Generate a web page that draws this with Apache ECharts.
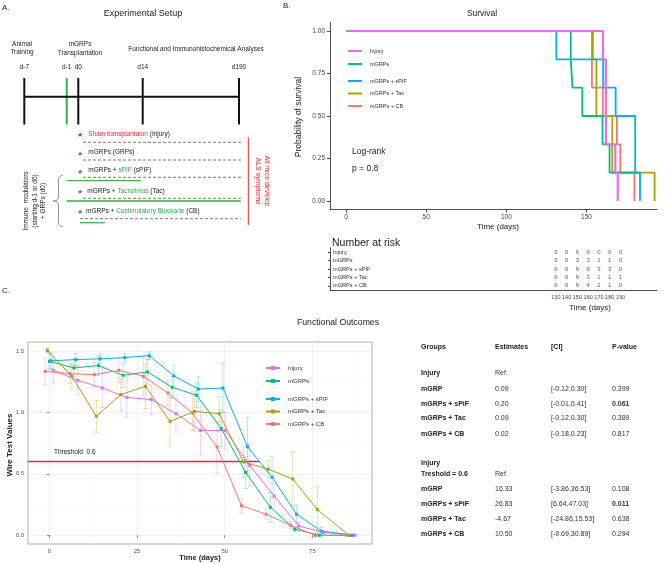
<!DOCTYPE html>
<html><head><meta charset="utf-8">
<script src="https://cdn.jsdelivr.net/npm/echarts@6/dist/echarts.min.js"></script>
<style>html,body{margin:0;padding:0;background:#fff}#c{width:669px;height:564px}</style>
</head><body><div id="c"></div><script>
const FONT = '"Liberation Sans", Arial, Helvetica, sans-serif';

// ---------------- DATA ----------------
const groups = ['Injury', 'mGRPs', 'mGRPs + sPIF', 'mGRPs + Tac', 'mGRPs + CB'];

// Panel B: Kaplan-Meier steps [time (days), survival probability]
const survInjury = [[0,1],[160.3,0.833],[162.1,0.333],[168,0.167],[169.5,0]];
const survGRPs   = [[0,1],[140.2,0.833],[141.3,0.667],[147.4,0.5],[160,0.333],[164.4,0.167],[183,0.167]];
const survSPIF   = [[0,1],[131.2,0.833],[160.4,0.667],[168.2,0.5],[180.4,0.167],[183.4,0]];
const survTac    = [[0,1],[154,0.833],[156.2,0.5],[166.1,0.167],[192.5,0]];
const survCB     = [[0,1],[153.4,0.667],[160.2,0.5],[169,0.333],[171.1,0.167],[179.9,0]];
const survTicksX = [0, 50, 100, 150];
const survTicksY = [0, 0.25, 0.5, 0.75, 1];

// Number at risk
const riskTimes  = [130, 140, 150, 160, 170, 180, 190];
const riskInjury = [6,6,6,6,0,0,0];
const riskGRPs   = [6,6,3,3,1,1,0];
const riskSPIF   = [6,6,6,6,3,3,0];
const riskTac    = [6,6,6,3,1,1,1];
const riskCB     = [6,6,6,4,2,1,0];

// Panel C: wire test values (mean) and error half-widths
const wireDays   = [0,7,14,21,28,35,42,49,56,63,70,77,86];
const wireInjury = [1.343,1.261,1.199,1.122,1.104,0.99,0.853,0.853,0.57,0.32,0.076,0.024,0];
const wireGRPs   = [1.416,1.362,1.381,1.302,1.33,1.204,1.14,0.87,0.511,0.228,0.049,0.0,0];
const wireSPIF   = [1.42,1.43,1.436,1.446,1.462,1.297,1.19,1.199,0.72,0.473,0.171,0.035,0];
const wireTac    = [1.505,1.294,0.968,1.145,1.212,0.927,1.008,0.99,0.596,0.538,0.458,0.209,0];
const wireCB     = [1.334,1.316,1.307,1.343,1.294,1.158,0.995,0.718,0.241,0.171,0.082,0.0,0];
const errInjury  = [0.11,0.12,0.16,0.16,0.12,0.15,0.2,0.15,0.17,0.1,0.03,0.01,0];
const errGRPs    = [0.06,0.07,0.08,0.1,0.1,0.09,0.1,0.15,0.13,0.12,0.02,0.01,0];
const errSPIF    = [0.07,0.05,0.04,0.03,0.03,0.09,0.1,0.2,0.24,0.17,0.07,0.03,0];
const errTac     = [0.02,0.1,0.13,0.13,0.18,0.2,0.16,0.14,0.13,0.07,0.22,0.19,0];
const errCB      = [0.11,0.08,0.1,0.1,0.15,0.1,0.14,0.21,0.06,0.04,0.03,0.01,0];
const wireTicksX = [0, 25, 50, 75];
const wireTicksY = [0, 0.5, 1, 1.5];
const thresholdValue = 0.6;
const thresholdEndDay = 60;

// Statistics table
const statHeader = ['Groups', 'Estimates', '[CI]', 'P-value'];
const statRows = [
  ['Injury', 'Ref.', '', ''],
  ['mGRP', '0.09', '[-0.12,0.30]', '0.399'],
  ['mGRPs + sPiF', '0.20', '[-0.01,0.41]', '0.061'],
  ['mGRPs + Tac', '0.09', '[-0.12,0.30]', '0.389'],
  ['mGRPs + CB', '0.02', '[-0.18,0.23]', '0.817'],
  ['Injury\nTreshold = 0.6', 'Ref.', '', ''],
  ['mGRP', '16.33', '[-3.86,36.53]', '0.108'],
  ['mGRPs + sPiF', '26.83', '[6.64,47.03]', '0.011'],
  ['mGRPs + Tac', '-4.67', '[-24.86,15.53]', '0.638'],
  ['mGRPs + CB', '10.50', '[-9.69,30.89]', '0.294']
];
const statBoldP = ['0.061', '0.011'];

// Panel A schematic text
const timelineLabels = ['d-7', 'd-1', 'd0', 'd14', 'd190'];
const protocolRows = [
  [['Sham transplantaion', 'r'], [' (Injury)', 'k']],
  [['mGRPs (GRPs)', 'k']],
  [['mGRPs + ', 'k'], ['sPIF', 'g'], [' (sPIF)', 'k']],
  [['mGRPs + ', 'k'], ['Tacrolimus', 'g'], [' (Tac)', 'k']],
  [['mGRPs + ', 'k'], ['Costimulatory Blockade', 'g'], [' (CB)', 'k']]
];

// ---------------- STYLE / LAYOUT ----------------
const colors = ['#E76BF3', '#00BF7D', '#00B0F6', '#A3A500', '#F8766D'];
const dodge = [1.1, 0, 0.5, -0.6, -1.2];
const survSets = [survInjury, survGRPs, survSPIF, survTac, survCB];
const riskSets = [riskInjury, riskGRPs, riskSPIF, riskTac, riskCB];
const wireSets = [wireInjury, wireGRPs, wireSPIF, wireTac, wireCB];
const errSets  = [errInjury, errGRPs, errSPIF, errTac, errCB];
const cMinX = -6.1, cMaxX = 92, cMinY = -0.071, cMaxY = 1.573;

function T(x, y, text, o) {
  o = o || {};
  const st = {
    text: text, fill: o.color || '#222', fontSize: o.size || 6.5, fontFamily: FONT,
    fontWeight: o.bold ? 'bold' : 'normal',
    align: o.align || 'left', textAlign: o.align || 'left',
    verticalAlign: o.valign || 'middle', textVerticalAlign: o.valign || 'middle'
  };
  if (o.rich) st.rich = o.rich;
  return { type: 'text', x: x, y: y, rotation: o.rot || 0, silent: true, z: 50, style: st };
}
function L(x1, y1, x2, y2, color, w, dash) {
  return { type: 'line', silent: true, z: 40, shape: { x1: x1, y1: y1, x2: x2, y2: y2 },
    style: { stroke: color, lineWidth: w, lineDash: dash || null } };
}
function Q(x1, y1, cx, cy, x2, y2, color, w) {
  return { type: 'bezierCurve', silent: true, z: 40,
    shape: { x1: x1, y1: y1, cpx1: cx, cpy1: cy, x2: x2, y2: y2 },
    style: { stroke: color, lineWidth: w, fill: null } };
}

const G = [];
// ---- Panel A ----
G.push(T(2, 8, 'A.', { size: 8 }));
G.push(T(143, 14, 'Experimental Setup', { size: 9, align: 'center' }));
G.push(T(22, 44, 'Animal', { align: 'center' }));
G.push(T(22, 52, 'Training', { align: 'center' }));
G.push(T(80, 44, 'mGRPs', { align: 'center' }));
G.push(T(80, 53, 'Transplantation', { align: 'center' }));
G.push(T(196, 49, 'Functional and Immunohistochemical Analyses', { align: 'center' }));
const tlX = [24.3, 66.7, 78.3, 142.7, 239];
timelineLabels.forEach((s, i) => {
  G.push(T(tlX[i], 67, s, { align: 'center' }));
  G.push(L(tlX[i], 78, tlX[i], 124.5, i === 1 ? '#2DB34A' : '#111', 2));
});
G.push(L(24.3, 96.8, 239, 96.8, '#111', 2));
const rowTextX = [88.3, 88.3, 88.3, 87.3, 86];
const rowTextY = [134.7, 152.7, 170.7, 191.3, 211];
const starY = [134.7, 154, 172.3, 192.3, 211.7];
const dashY = [142.3, 160, 177.3, 198.3, 218.7];
const richBase = {
  k: { fill: '#222', fontSize: 6.5, fontFamily: FONT },
  r: { fill: '#E8272B', fontSize: 6.5, fontFamily: FONT },
  g: { fill: '#2DAA4F', fontSize: 6.5, fontFamily: FONT }
};
protocolRows.forEach((parts, i) => {
  const txt = parts.map(p => '{' + p[1] + '|' + p[0] + '}').join('');
  G.push(T(rowTextX[i], rowTextY[i], txt, { rich: richBase }));
  G.push(T(79.5, starY[i], '\u2605', { size: 7, align: 'center', color: i === 0 ? '#A03A5A' : '#4F74A8' }));
  G.push(L(i === 4 ? 80 : 83, dashY[i], 241, dashY[i], '#555', 0.8, [3, 2]));
});
G.push(L(66.7, 180.7, 140.7, 180.7, '#3DB54A', 1.3));
G.push(L(66.7, 201, 240.7, 201, '#5CC46E', 2));
G.push(L(80, 222.7, 105, 222.7, '#3DB54A', 1.3));
// brace
G.push(Q(63, 175.5, 58.5, 175.5, 58.5, 180, '#777', 0.8));
G.push(L(58.5, 180, 58.5, 197, '#777', 0.8));
G.push(Q(58.5, 197, 58.5, 201, 53, 201, '#777', 0.8));
G.push(Q(53, 201, 58.5, 201, 58.5, 205, '#777', 0.8));
G.push(L(58.5, 205, 58.5, 222, '#777', 0.8));
G.push(Q(58.5, 222, 58.5, 226.5, 63, 226.5, '#777', 0.8));
G.push(T(26.7, 201, 'Immune  modulators', { rot: Math.PI / 2, align: 'center' }));
G.push(T(35, 201, '(starting d-1 or d0)', { rot: Math.PI / 2, align: 'center' }));
G.push(T(43.3, 201, '+ GRPs (d0)', { rot: Math.PI / 2, align: 'center' }));
G.push(L(248.3, 137.3, 248.3, 225, '#E8272B', 1));
G.push(T(266.7, 181, 'All mice develop', { rot: -Math.PI / 2, align: 'center', color: '#E8272B', size: 7 }));
G.push(T(258.3, 181, 'ALS symptoms', { rot: -Math.PI / 2, align: 'center', color: '#E8272B', size: 7 }));

// ---- Panel B texts ----
G.push(T(283, 6, 'B.', { size: 8 }));
G.push(T(482, 14, 'Survival', { size: 8.5, align: 'center' }));
G.push(T(299, 117, 'Probability of survival', { size: 8.5, align: 'center', rot: Math.PI / 2 }));
G.push(T(352, 152, 'Log-rank', { size: 8.5 }));
G.push(T(352, 169, 'p = 0.8', { size: 8.5 }));
G.push(T(498, 227, 'Time (days)', { size: 8, align: 'center' }));
G.push(T(332, 243, 'Number at risk', { size: 10.5 }));
G.push(T(590, 308, 'Time (days)', { size: 8, align: 'center' }));

// ---- Panel C texts ----
G.push(T(2, 291, 'C.', { size: 8 }));
G.push(T(338, 323, 'Functional Outcomes', { size: 8.7, align: 'center' }));
G.push(T(10, 445, 'Wire Test Values', { size: 8, bold: true, align: 'center', rot: Math.PI / 2 }));
G.push(T(200, 558, 'Time (days)', { size: 7.5, bold: true, align: 'center' }));
G.push(T(54, 452, 'Threshold  0.6', { size: 6.5 }));

// ---- Stats table ----
const colX = [421, 495, 551, 612];
const rowY = [373, 389, 404, 418, 434, 474, 489, 504, 519, 534];
statHeader.forEach((h, j) => G.push(T(colX[j], 347, h, { size: 7, bold: true })));
statRows.forEach((r, i) => {
  const nameLines = r[0].split('\n');
  nameLines.forEach((ln, k) => G.push(T(colX[0], rowY[i] - (nameLines.length - 1 - k) * 11, ln, { size: 7, bold: true })));
  for (let j = 1; j < 4; j++) {
    if (r[j]) G.push(T(colX[j], rowY[i], r[j], { size: 7, color: '#333', bold: statBoldP.indexOf(r[j]) >= 0 }));
  }
});

// ---------------- SERIES ----------------
const series = [];
[4, 3, 1, 2, 0].forEach((i, k) => {
  series.push({ type: 'line', name: groups[i], xAxisIndex: 0, yAxisIndex: 0, step: 'end',
    data: survSets[i], symbol: 'none', showSymbol: false, silent: true, z: 3 + k,
    lineStyle: { color: colors[i], width: i === 0 ? 2.2 : 1.8, opacity: 1 }, itemStyle: { color: colors[i] } });
});
const riskData = [];
groups.forEach((g, i) => riskTimes.forEach((t, j) => riskData.push([t, g, riskSets[i][j]])));
series.push({ type: 'scatter', xAxisIndex: 1, yAxisIndex: 1, data: riskData, symbolSize: 1, silent: true,
  itemStyle: { color: 'rgba(0,0,0,0)' },
  label: { show: true, position: 'inside', formatter: p => String(p.value[2]), fontSize: 6, color: '#333', fontFamily: FONT } });

groups.forEach((g, i) => {
  const col = colors[i];
  series.push({ type: 'custom', xAxisIndex: 2, yAxisIndex: 2, silent: true, z: 2,
    data: wireDays.map((d, j) => [d + dodge[i], wireSets[i][j] - errSets[i][j], wireSets[i][j] + errSets[i][j]]),
    encode: { x: 0, y: [1, 2] },
    renderItem: function (params, api) {
      const x = api.value(0), lo = api.value(1), hi = api.value(2);
      if (hi - lo <= 0.001) return { type: 'group', children: [] };
      const p1 = api.coord([x, lo]), p2 = api.coord([x, hi]);
      const w = 2.5;
      const st = { stroke: col, lineWidth: 0.8, opacity: 0.4 };
      return { type: 'group', children: [
        { type: 'line', shape: { x1: p1[0], y1: p1[1], x2: p2[0], y2: p2[1] }, style: st },
        { type: 'line', shape: { x1: p1[0] - w, y1: p1[1], x2: p1[0] + w, y2: p1[1] }, style: st },
        { type: 'line', shape: { x1: p2[0] - w, y1: p2[1], x2: p2[0] + w, y2: p2[1] }, style: st }
      ] };
    } });
});
series.push({ type: 'line', xAxisIndex: 2, yAxisIndex: 2, silent: true, z: 3, symbol: 'none',
  data: [[cMinX, thresholdValue], [thresholdEndDay, thresholdValue]],
  lineStyle: { color: '#FF2020', width: 1.5 } });
groups.forEach((g, i) => {
  series.push({ type: 'line', name: 'C|' + g, xAxisIndex: 2, yAxisIndex: 2, silent: true, z: 4,
    data: wireDays.map((d, j) => [d + dodge[i], wireSets[i][j]]),
    symbol: 'rect', symbolSize: 3, showSymbol: true,
    lineStyle: { color: colors[i], width: 1 }, itemStyle: { color: colors[i] } });
});

// ---------------- AXES ----------------
const axTxt = { fontSize: 6.5, color: '#444', fontFamily: FONT };
const blackLine = { color: '#222', width: 0.8 };
const xAxis = [
  { gridIndex: 0, type: 'value', min: -10, max: 194,
    axisLine: { show: true, onZero: false, lineStyle: blackLine },
    axisTick: { show: true, customValues: survTicksX, length: 3, lineStyle: blackLine },
    axisLabel: Object.assign({ customValues: survTicksX, margin: 4 }, axTxt),
    splitLine: { show: false } },
  { gridIndex: 1, type: 'value', min: -80, max: 224,
    axisLine: { show: true, onZero: false, lineStyle: blackLine },
    axisTick: { show: false, customValues: riskTimes },
    axisLabel: Object.assign({ customValues: riskTimes, margin: 4, hideOverlap: false }, axTxt, { fontSize: 5.5 }),
    splitLine: { show: false } },
  { gridIndex: 2, type: 'value', min: cMinX, max: cMaxX,
    axisLine: { show: false },
    axisTick: { show: true, customValues: wireTicksX, length: 2.5, lineStyle: { color: '#444', width: 0.6 } },
    axisLabel: Object.assign({ customValues: wireTicksX, margin: 4 }, axTxt, { fontSize: 6, color: '#555' }),
    splitLine: { show: true, lineStyle: { color: '#EBEBEB', width: 0.7 } } },
  { gridIndex: 2, type: 'value', min: cMinX, max: cMaxX, position: 'top',
    axisLine: { show: false }, axisLabel: { show: false },
    axisTick: { show: false, customValues: [12.5, 37.5, 62.5, 87.5] },
    splitLine: { show: true, lineStyle: { color: '#F4F4F4', width: 0.5 } } }
];
const yAxis = [
  { gridIndex: 0, type: 'value', min: -0.05, max: 1.05,
    axisLine: { show: true, onZero: false, lineStyle: blackLine },
    axisTick: { show: true, customValues: survTicksY, length: 3, lineStyle: blackLine },
    axisLabel: Object.assign({ customValues: survTicksY, margin: 5, formatter: v => Number(v).toFixed(2) }, axTxt),
    splitLine: { show: false } },
  { gridIndex: 1, type: 'category', data: groups, inverse: true,
    axisLine: { show: true, onZero: false, lineStyle: blackLine },
    axisTick: { show: true, length: 2, alignWithLabel: true, lineStyle: blackLine },
    axisLabel: { inside: true, margin: 3, fontSize: 5.6, color: '#333', fontFamily: FONT },
    splitLine: { show: false } },
  { gridIndex: 2, type: 'value', min: cMinY, max: cMaxY,
    axisLine: { show: false },
    axisTick: { show: true, customValues: wireTicksY, length: 2.5, lineStyle: { color: '#444', width: 0.6 } },
    axisLabel: Object.assign({ customValues: wireTicksY, margin: 4, formatter: v => Number(v).toFixed(1) }, axTxt, { fontSize: 6, color: '#555' }),
    splitLine: { show: true, lineStyle: { color: '#EBEBEB', width: 0.7 } } },
  { gridIndex: 2, type: 'value', min: cMinY, max: cMaxY, position: 'right',
    axisLine: { show: false }, axisLabel: { show: false },
    axisTick: { show: false, customValues: [0.25, 0.75, 1.25] },
    splitLine: { show: true, lineStyle: { color: '#F4F4F4', width: 0.5 } } }
];

function legendB(names, top, gap) {
  return { left: 348, top: top, orient: 'vertical', padding: 0, itemGap: gap, itemWidth: 14, itemHeight: 2,
    icon: 'rect', data: names, selectedMode: false,
    textStyle: { fontSize: 5.5, color: '#333', fontFamily: FONT, lineHeight: 8, padding: [0, 0, 0, 3] } };
}
function legendC(names, top, gap) {
  return { left: 265, top: top, orient: 'vertical', padding: 0, itemGap: gap, itemWidth: 14, itemHeight: 5,
    data: names.map(n => 'C|' + n), selectedMode: false, formatter: n => n.slice(2),
    textStyle: { fontSize: 6, color: '#333', fontFamily: FONT, lineHeight: 8, padding: [0, 0, 0, 3] } };
}

const option = {
  animation: false,
  backgroundColor: '#fff',
  textStyle: { fontFamily: FONT },
  grid: [
    { left: 330, top: 22.5, width: 327, height: 187, show: false, containLabel: false, outerBoundsMode: 'none' },
    { left: 330, top: 248, width: 327, height: 42, show: false, containLabel: false, outerBoundsMode: 'none' },
    { left: 28, top: 342, width: 344, height: 202, show: true, borderColor: '#999', borderWidth: 0.8,
      backgroundColor: '#fff', containLabel: false, outerBoundsMode: 'none' }
  ],
  legend: [
    legendB(['Injury', 'mGRPs'], 47, 5),
    legendB(['mGRPs + sPIF', 'mGRPs + Tac', 'mGRPs + CB'], 77, 4.5),
    legendC(['Injury', 'mGRPs'], 364, 5),
    legendC(['mGRPs + sPIF', 'mGRPs + Tac', 'mGRPs + CB'], 395, 4.5)
  ],
  xAxis: xAxis,
  yAxis: yAxis,
  series: series,
  graphic: { elements: G }
};
const chart = echarts.init(document.getElementById('c'), null, { renderer: 'canvas', width: 669, height: 564 });
chart.setOption(option);
</script></body></html>
